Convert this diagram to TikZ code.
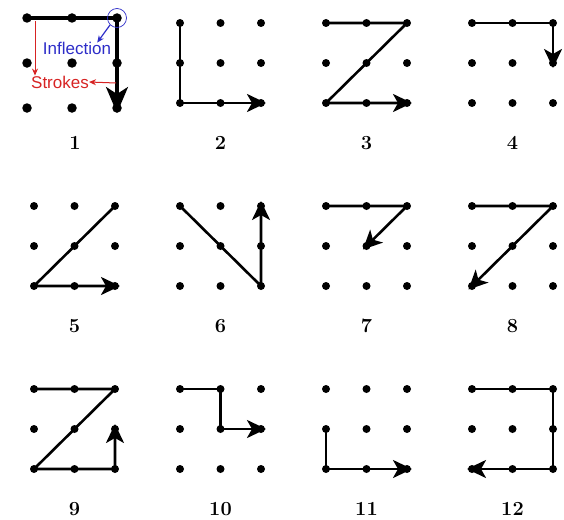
\documentclass[tikz,border=0pt]{standalone}
\usepackage{fontspec}
\newfontfamily\annfont{Liberation Sans}
\usetikzlibrary{arrows.meta, calc}

\definecolor{inflblue}{RGB}{45,45,200}
\definecolor{strkred}{RGB}{215,35,35}

\tikzset{
    griddot/.style={circle, fill=black, inner sep=0pt, minimum size=8pt},
    pathline/.style={line width=2.6pt, line join=round,
        -{Stealth[length=19pt, width=18pt, inset=5pt]}, shorten >=-5pt},
    panellabel/.style={font=\fontsize{20}{24}\selectfont\bfseries},
    annlabel/.style={font=\annfont\fontsize{17}{20}\selectfont, inner sep=0pt},
}

\begin{document}
\begin{tikzpicture}[x=1pt, y=-1pt]
    \useasboundingbox (0,0) rectangle (564,519);

    % panel 1 (bigger grid)
    \foreach \c in {0,1,2}{
        \foreach \r in {0,1,2}{
            \node[griddot, minimum size=9.5pt] (p1-\c\r) at ({27+45*\c},{18+45*\r}) {};
        }
    }
    \node[panellabel] (lab1) at (75,143) {1};

    % panels 2 to 12
    \foreach \k/\ox/\oy in {2/180/23, 3/326/23, 4/472/23,
                            5/34/206, 6/180/206, 7/326/206, 8/472/206,
                            9/34/389, 10/180/389, 11/326/389, 12/472/389}{
        \foreach \c in {0,1,2}{
            \foreach \r in {0,1,2}{
                \node[griddot] (p\k-\c\r) at ({\ox+40.5*\c},{\oy+40*\r}) {};
            }
        }
        \node[panellabel] (lab\k) at ({\ox+40.5},{\oy+120}) {\k};
    }

    % strokes
    \draw[pathline, line width=3.2pt, -{Stealth[length=26pt, width=22pt, inset=7pt]}]
        (p1-00.center) -- (p1-20.center) -- (p1-22.center);
    \draw[pathline] (p2-00.center) -- (p2-02.center) -- (p2-22.center);
    \draw[pathline] (p3-00.center) -- (p3-20.center) -- (p3-02.center) -- (p3-22.center);
    \draw[pathline] (p4-00.center) -- (p4-20.center) -- (p4-21.center);
    \draw[pathline] (p5-20.center) -- (p5-02.center) -- (p5-22.center);
    \draw[pathline] (p6-00.center) -- (p6-22.center) -- (p6-20.center);
    \draw[pathline] (p7-00.center) -- (p7-20.center) -- (p7-11.center);
    \draw[pathline] (p8-00.center) -- (p8-20.center) -- (p8-02.center);
    \draw[pathline] (p9-00.center) -- (p9-20.center) -- (p9-02.center) -- (p9-22.center) -- (p9-21.center);
    \draw[pathline] (p10-00.center) -- (p10-10.center) -- (p10-11.center) -- (p10-21.center);
    \draw[pathline] (p11-01.center) -- (p11-02.center) -- (p11-22.center);
    \draw[pathline] (p12-00.center) -- (p12-20.center) -- (p12-22.center) -- (p12-02.center);

    % annotations on panel 1
    \node[draw=inflblue, circle, line width=0.7pt, minimum size=19pt, inner sep=0pt] (ring) at (p1-20) {};
    \node[annlabel, text=inflblue] (infl) at (77,48) {Inflection};
    \draw[inflblue, line width=1.2pt, -{Stealth[length=7pt, width=6pt]}]
        (ring.south west) -- ($(infl.north east)+(-14,1)$);

    \node[annlabel, text=strkred] (strk) at (60,82) {Strokes};
    \coordinate (rtop) at (35,21);
    \coordinate (rright) at (116,83);
    \draw[strkred, line width=1pt, -{Stealth[length=7pt, width=6pt]}]
        (rtop) -- (rtop |- strk.north);
    \draw[strkred, line width=1pt, -{Stealth[length=7pt, width=6pt]}]
        (rright) -- (strk.east);
\end{tikzpicture}
\end{document}
